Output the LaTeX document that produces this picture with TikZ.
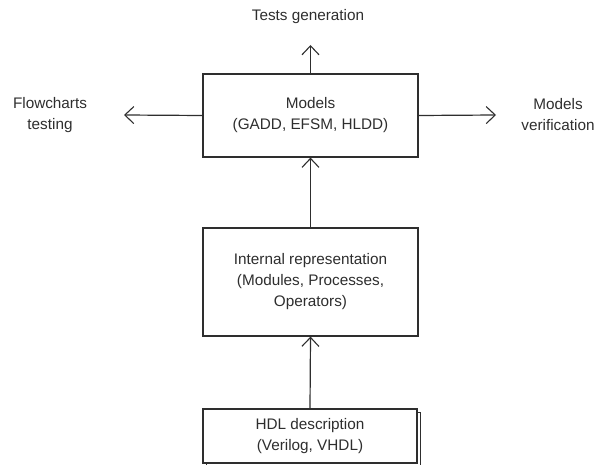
\documentclass[tikz,border=0pt]{standalone}
\usepackage{fontspec}
\setmainfont{Liberation Sans}
\usetikzlibrary{arrows.meta,shadows}
\definecolor{ink}{HTML}{2E2E2E}
\begin{document}
\begin{tikzpicture}[x=1pt,y=-1pt,
  every node/.style={text=ink,font=\fontsize{15.3}{21}\selectfont,align=center,inner sep=0pt},
  block/.style={draw=ink,line width=1.2pt,fill=white,minimum width=215pt},
  link/.style={draw=ink,line width=1.2pt,-{Straight Barb[length=9pt,width=17pt,line width=1.1pt]}},
  label/.style={}]
  \useasboundingbox (0,0) rectangle (610,465);

  % main blocks
  \node[block,minimum height=83pt] (models) at (310.5,115.5)
    {Models\\(GADD, EFSM, HLDD)};
  \node[block,minimum height=108pt] (internal) at (310.5,282)
    {Internal representation\\(Modules, Processes,\\Operators)};
  \node[block,minimum width=214pt,minimum height=54pt,
        copy shadow={shadow xshift=3pt,shadow yshift=-3pt,draw=ink,line width=0.9pt,fill=white}]
    (hdl) at (310,436) {HDL description\\(Verilog, VHDL)};

  % outputs of the models
  \node[label] (tests) at (308,17) {Tests generation};
  \node[label] (flow) at (50,115) {Flowcharts\\testing};
  \node[label] (verif) at (558,115) {Models\\verification};
  \coordinate (testsTip) at (310.5,45);
  \coordinate (flowTip) at (124,115);
  \coordinate (verifTip) at (496,115);

  % connectors
  \draw[link] (hdl.north) -- (internal.south);
  \draw[link] (internal.north) -- (models.south);
  \draw[link] (models.north) -- (testsTip);
  \draw[link] (models.west) -- (flowTip);
  \draw[link] (models.east) -- (verifTip);
\end{tikzpicture}
\end{document}
